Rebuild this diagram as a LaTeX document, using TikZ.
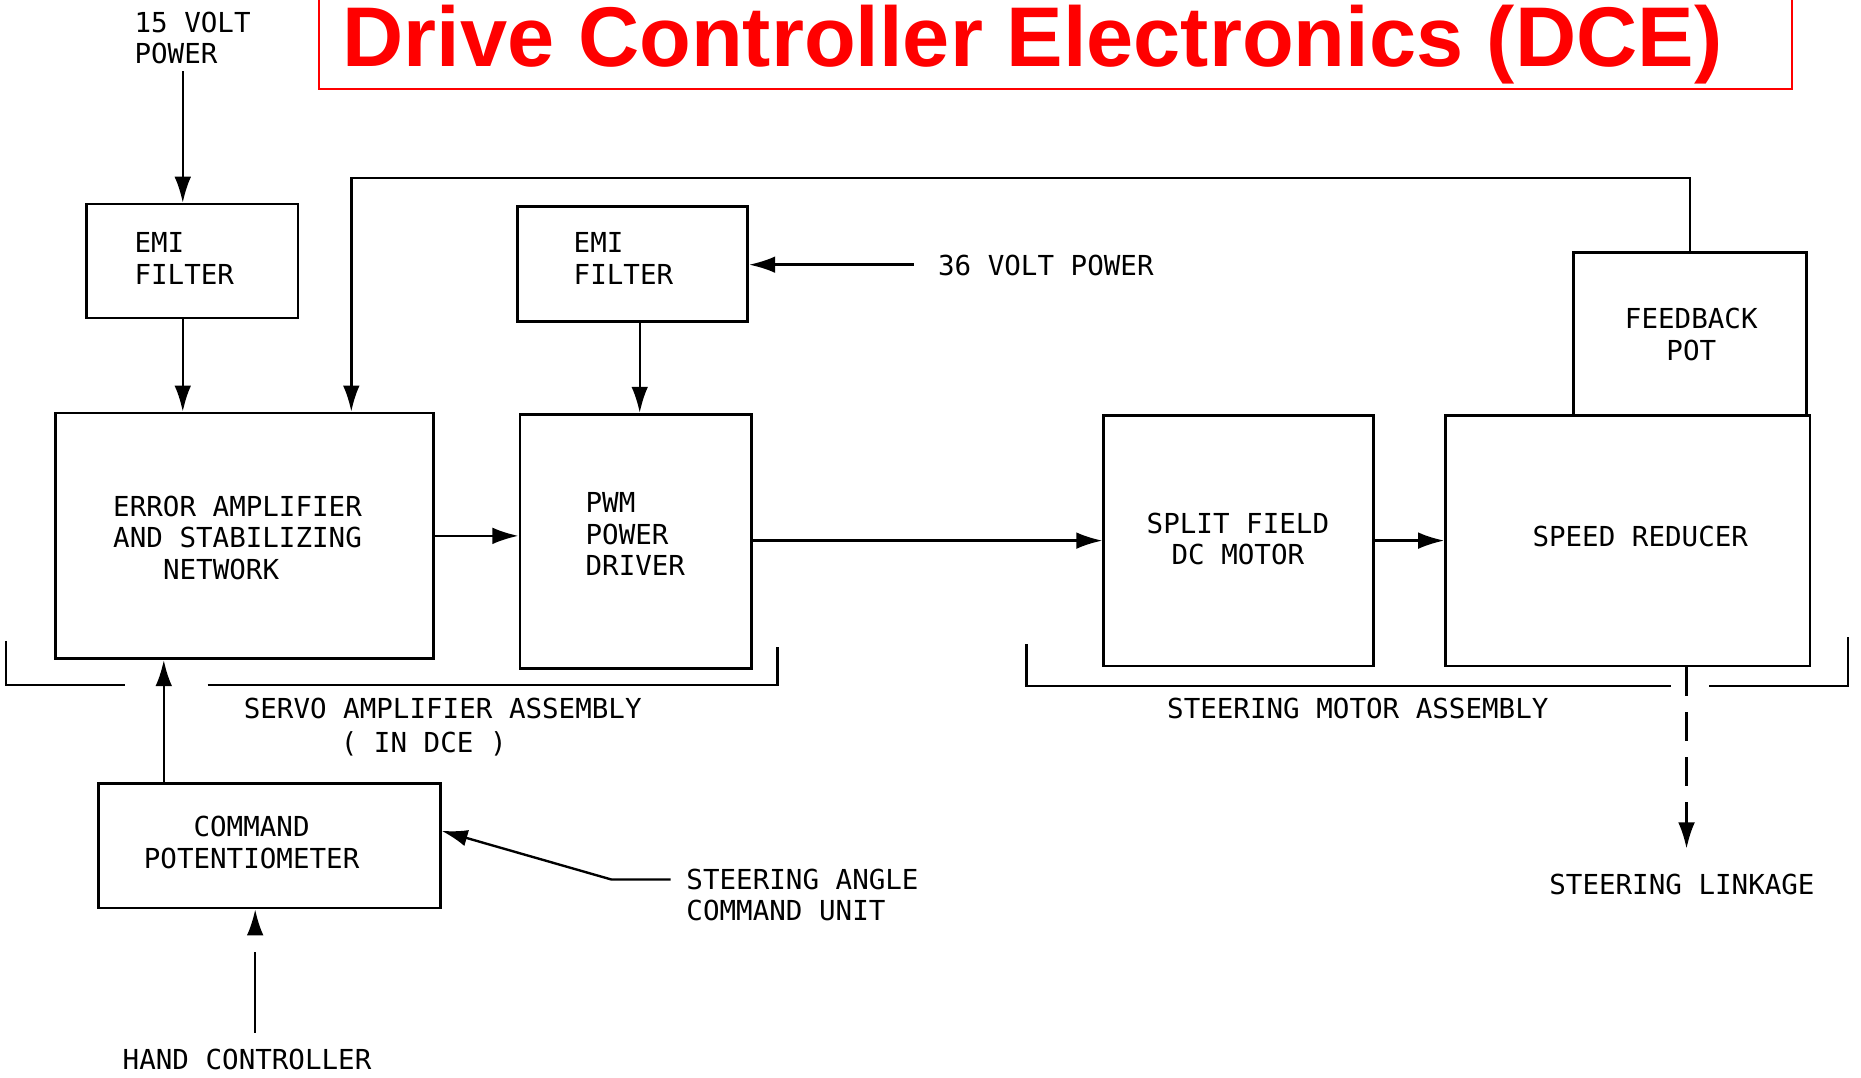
\documentclass[tikz,border=0pt]{standalone}
\usepackage{fontspec}
\setmonofont{DejaVu Sans Mono}
\newfontfamily\titlefont{Liberation Sans}
\usetikzlibrary{fit,arrows.meta}
\definecolor{titlered}{RGB}{255,0,0}
\begin{document}
\begin{tikzpicture}[x=0.5pt,y=-0.5pt,
  blk/.style={draw, line width=1.1pt, inner sep=0pt},
  lbl/.style={font=\fontsize{11.6}{13.3}\selectfont\ttfamily, inner sep=0pt},
  arr/.style={line width=1pt, -{Latex[length=11pt,width=7pt]}},
  dasharr/.style={arr, dash pattern=on 34pt off 8pt},
  linkarr/.style={arr, dash pattern=on 12pt off 7pt},
  brk/.style={line width=1pt}]
\useasboundingbox (0,0) rectangle (1568,908);
% title
\draw[titlered, line width=0.7pt] (269,-5) -- (269,75) -- (1510,75) -- (1510,-5);
\node[anchor=base, inner sep=0pt, text=titlered, font=\fontsize{35.7}{40}\selectfont\titlefont\bfseries] (title) at (870,56) {Drive Controller Electronics (DCE)};
% boxes
\node[blk, fit={(73,172) (251,268)}] (emia) {};
\node[blk, fit={(436,174) (630,271)}] (emib) {};
\node[blk, fit={(47,348) (365,555)}] (err) {};
\node[blk, fit={(438,349) (633,563)}] (pwm) {};
\node[blk, fit={(930,350) (1157,561)}] (sfm) {};
\node[blk, fit={(1218,350) (1525,561)}] (spd) {};
\node[blk, fit={(1326,213) (1522,350)}] (fbp) {};
\node[blk, fit={(83,660) (371,765)}] (cmd) {};
% box texts
\node[lbl, anchor=west, align=left] (errtxt) at (95,453) {ERROR AMPLIFIER\\AND STABILIZING\\\hspace*{21pt}NETWORK};
\node[lbl, anchor=west, align=left] (emiatxt) at (113,218) {EMI\\FILTER};
\node[lbl, anchor=west, align=left] (emibtxt) at (483,218) {EMI\\FILTER};
\node[lbl, anchor=west, align=left] (pwmtxt) at (493,450) {PWM\\POWER\\DRIVER};
\node[lbl, align=center] (sfmtxt) at (1043,454) {SPLIT FIELD\\DC MOTOR};
\node[lbl] (spdtxt) at (1382,452) {SPEED REDUCER};
\node[lbl, align=center] (fbptxt) at (1425,282) {FEEDBACK\\POT};
\node[lbl, align=center] (cmdtxt) at (212,710) {COMMAND\\POTENTIOMETER};
% free labels
\node[lbl, anchor=west, align=left] (v15) at (113,32) {15 VOLT\\POWER};
\node[lbl, anchor=west] (v36) at (790,224) {36 VOLT POWER};
\node[lbl, anchor=west] (servo) at (205,597) {SERVO AMPLIFIER ASSEMBLY};
\node[lbl] (indce) at (357,627) {( IN DCE )};
\node[lbl, anchor=west] (stmot) at (983,597) {STEERING MOTOR ASSEMBLY};
\node[lbl, anchor=west] (stlink) at (1305,745) {STEERING LINKAGE};
\node[lbl, anchor=west, align=left] (stang) at (578,754) {STEERING ANGLE\\COMMAND UNIT};
\node[lbl, anchor=west] (hand) at (103,893) {HAND CONTROLLER};
% coordinates
\coordinate (p15) at (154,60);
\coordinate (p36) at (770,223);
\coordinate (x539) at (539,0);
\coordinate (fbx) at (296,150);
\coordinate (cx) at (138,0);
\coordinate (sa1) at (565,741);
\coordinate (sa2) at (515,741);
\coordinate (satip) at (372,700);
\coordinate (hc) at (215,870);
\coordinate (sl) at (1421,715);
% connectors
\draw[arr] (p15) -- (p15 |- emia.north);
\draw[arr] (p15 |- emia.south) -- (p15 |- err.north);
\draw[arr] (p36) -- (p36 -| emib.east);
\draw[arr] (x539 |- emib.south) -- (x539 |- pwm.north);
\draw[arr] (fbp.north) |- (fbx) -- (fbx |- err.north);
\draw[arr] (err.east) -- (err.east -| pwm.west);
\draw[arr] (sfm.west -| pwm.east) -- (sfm.west);
\draw[arr] (sfm.east) -- (spd.west);
\draw[arr] (cx |- cmd.north) -- (cx |- err.south);
\draw[arr] (sa1) -- (sa2) -- (satip);
\draw[dasharr] (hc) -- (hc |- cmd.south);
\draw[linkarr] (sl |- spd.south) -- (sl);
% assembly brackets
\draw[brk] (5,540) -- (5,577) -- (105,577);
\draw[brk] (175,577) -- (655,577) -- (655,545);
\draw[brk] (865,543) -- (865,578) -- (1408,578);
\draw[brk] (1440,578) -- (1557,578) -- (1557,537);
\end{tikzpicture}
\end{document}
